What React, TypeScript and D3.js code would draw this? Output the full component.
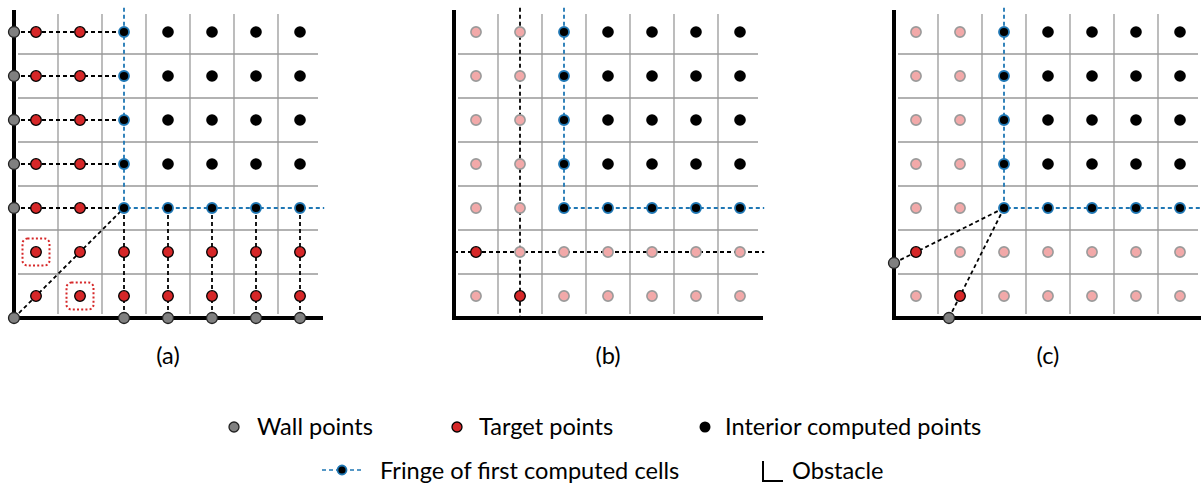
import React from 'react';
import * as d3 from 'd3';

// point kinds per cell, rows listed top to bottom
// T = target, P = passive (faded target), F = fringe, I = interior
const gridA = [
  'TTFIIII',
  'TTFIIII',
  'TTFIIII',
  'TTFIIII',
  'TTFFFFF',
  'TTTTTTT',
  'TTTTTTT',
];
const gridB = [
  'PPFIIII',
  'PPFIIII',
  'PPFIIII',
  'PPFIIII',
  'PPFFFFF',
  'TPPPPPP',
  'PTPPPPP',
];
const gridC = [
  'PPFIIII',
  'PPFIIII',
  'PPFIIII',
  'PPFIIII',
  'PPFFFFF',
  'TPPPPPP',
  'PTPPPPP',
];

// wall points in grid units (x, y) from the obstacle corner
const wallsA: [number, number][] = [
  [0, 6.5], [0, 5.5], [0, 4.5], [0, 3.5], [0, 2.5],
  [0, 0],
  [2.5, 0], [3.5, 0], [4.5, 0], [5.5, 0], [6.5, 0],
];
const wallsB: [number, number][] = [];
const wallsC: [number, number][] = [[0, 1.25], [1.25, 0]];

// black dashed links [x1, y1, x2, y2]
const linksA: number[][] = [
  [0, 6.5, 2.5, 6.5], [0, 5.5, 2.5, 5.5], [0, 4.5, 2.5, 4.5], [0, 3.5, 2.5, 3.5], [0, 2.5, 2.5, 2.5],
  [2.5, 2.5, 2.5, 0], [3.5, 2.5, 3.5, 0], [4.5, 2.5, 4.5, 0], [5.5, 2.5, 5.5, 0], [6.5, 2.5, 6.5, 0],
  [0, 0, 2.5, 2.5],
];
const linksB: number[][] = [
  [1.5, 7.05, 1.5, -0.05],
  [0, 1.5, 7.05, 1.5],
];
const linksC: number[][] = [
  [0, 1.25, 2.5, 2.5],
  [1.25, 0, 2.5, 2.5],
];

// fringe polyline
const fringeLine: [number, number][] = [[2.5, 7.05], [2.5, 2.5], [7.05, 2.5]];

// dotted highlight cells (col, row from bottom)
const highlightA: [number, number][] = [[0, 1], [1, 0]];
const highlightB: [number, number][] = [];
const highlightC: [number, number][] = [];

const panelLabels = ['(a)', '(b)', '(c)'];
const legendRow1 = ['Wall points', 'Target points', 'Interior computed points'];
const legendRow2 = ['Fringe of first computed cells', 'Obstacle'];

const RED = '#d62728';
const BLUE = '#1f77b4';
const FONT = 'Lato, "DejaVu Sans", sans-serif';
const FS = 23.6;

const x = d3.scaleLinear().domain([0, 7]).range([14, 322]);
const y = d3.scaleLinear().domain([0, 7]).range([318, 10]);
const ticks = [1, 2, 3, 4, 5, 6];

const lineGen = d3.line<[number, number]>().x(d => x(d[0])).y(d => y(d[1]));

const Dot: React.FC<{ kind: string; cx: number; cy: number }> = ({ kind, cx, cy }) => {
  if (kind === 'T') return <circle cx={cx} cy={cy} r={5.3} fill={RED} stroke="#000" strokeWidth={1.3} />;
  if (kind === 'P') return <circle cx={cx} cy={cy} r={5.1} fill="#f2a9a9" stroke="#9a9a9a" strokeWidth={1.6} />;
  if (kind === 'F') return <circle cx={cx} cy={cy} r={5} fill="#000" stroke={BLUE} strokeWidth={1.8} />;
  if (kind === 'W') return <circle cx={cx} cy={cy} r={5.5} fill="#808080" stroke="#222" strokeWidth={1.3} />;
  return <circle cx={cx} cy={cy} r={5.8} fill="#000" />;
};

const Panel: React.FC<{
  dx: number; grid: string[]; walls: [number, number][]; links: number[][];
  highlight: [number, number][]; label: string;
}> = ({ dx, grid, walls, links, highlight, label }) => (
  <g transform={`translate(${dx},0)`}>
    {ticks.map(k => (
      <line key={'v' + k} x1={x(k)} x2={x(k)} y1={14} y2={314} stroke="#999" strokeWidth={1.3} />
    ))}
    {ticks.map(k => (
      <line key={'h' + k} x1={18} x2={318} y1={y(k)} y2={y(k)} stroke="#999" strokeWidth={1.3} />
    ))}
    {links.map((l, i) => (
      <line key={'l' + i} x1={x(l[0])} y1={y(l[1])} x2={x(l[2])} y2={y(l[3])}
        stroke="#000" strokeWidth={1.8} strokeDasharray="4,3" />
    ))}
    <path d={lineGen(fringeLine) || ''} fill="none" stroke={BLUE} strokeWidth={1.8} strokeDasharray="4,3" />
    <path d={`M${x(0)},${y(0) - 308}V${y(0)}H${x(7) + 1}`} fill="none" stroke="#000" strokeWidth={4} />
    {highlight.map((h, i) => (
      <rect key={'hl' + i} x={x(h[0] + 0.5) - 13.5} y={y(h[1] + 0.5) - 13.5} width={27} height={27} rx={5}
        fill="none" stroke={RED} strokeWidth={2} strokeDasharray="2,2.2" />
    ))}
    {grid.map((row, r) =>
      row.split('').map((kind, i) => (
        <Dot key={r + '-' + i} kind={kind} cx={x(i + 0.5)} cy={y(6 - r + 0.5)} />
      ))
    )}
    {walls.map((w, i) => <Dot key={'w' + i} kind="W" cx={x(w[0])} cy={y(w[1])} />)}
    <text x={168} y={364} textAnchor="middle" fontFamily={FONT} fontSize={FS}>{label}</text>
  </g>
);

const App: React.FC = () => {
  const textStyle = { fontFamily: FONT, fontSize: FS, fill: '#000' };
  return (
    <svg width={1201} height={485} style={{ position: 'absolute', left: 0, top: 0, background: '#fff' }}>
      <Panel dx={0} grid={gridA} walls={wallsA} links={linksA} highlight={highlightA} label={panelLabels[0]} />
      <Panel dx={440} grid={gridB} walls={wallsB} links={linksB} highlight={highlightB} label={panelLabels[1]} />
      <Panel dx={880} grid={gridC} walls={wallsC} links={linksC} highlight={highlightC} label={panelLabels[2]} />

      {/* legend row 1 */}
      <circle cx={234} cy={427} r={5} fill="#808080" stroke="#222" strokeWidth={1.3} />
      <text x={257} y={435} style={textStyle}>{legendRow1[0]}</text>
      <circle cx={457} cy={427} r={5} fill={RED} stroke="#000" strokeWidth={1.3} />
      <text x={479} y={435} style={textStyle}>{legendRow1[1]}</text>
      <circle cx={705} cy={427} r={5.5} fill="#000" />
      <text x={725} y={435} style={textStyle}>{legendRow1[2]}</text>

      {/* legend row 2 */}
      <line x1={322} x2={362} y1={470} y2={470} stroke={BLUE} strokeWidth={1.6} strokeDasharray="4,3" />
      <circle cx={342} cy={470} r={4.5} fill="#000" stroke={BLUE} strokeWidth={1.8} />
      <text x={380} y={479} style={textStyle}>{legendRow2[0]}</text>
      <path d="M763,461V481H783" fill="none" stroke="#000" strokeWidth={2} />
      <text x={792} y={479} style={textStyle}>{legendRow2[1]}</text>
    </svg>
  );
};

export default App;
